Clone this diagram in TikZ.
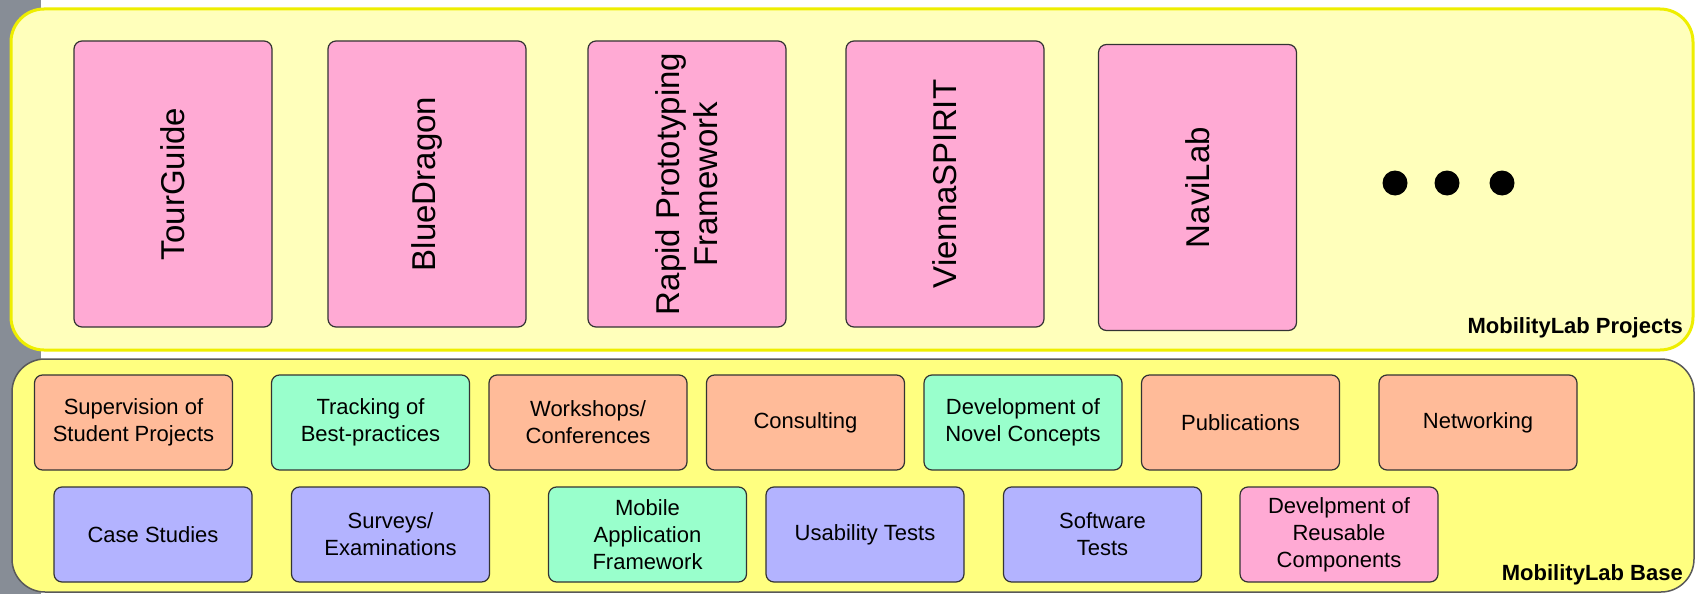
\documentclass[tikz,border=0pt]{standalone}
\usepackage{fontspec}
\setmainfont{Liberation Sans}
\definecolor{stripgray}{HTML}{878D96}
\definecolor{projborder}{HTML}{EEEE00}
\definecolor{projfill}{HTML}{FFFFBB}
\definecolor{basefill}{HTML}{FFFF80}
\definecolor{pinkbox}{HTML}{FFAAD4}
\definecolor{salmonbox}{HTML}{FFBB99}
\definecolor{mintbox}{HTML}{99FFCC}
\definecolor{lilacbox}{HTML}{B3B3FF}

\begin{document}
\begin{tikzpicture}[x=1pt,y=-1pt]
    \tikzstyle{container}=[rounded corners=33pt]
    \tikzstyle{project}=[rectangle,draw=black!80,line width=1.2pt,fill=pinkbox,rounded corners=8pt,rotate=90,minimum width=286pt,minimum height=198pt,inner sep=0pt,align=center,font=\fontsize{33}{38}\selectfont]
    \tikzstyle{task}=[rectangle,draw=black!80,line width=1.2pt,rounded corners=8pt,minimum width=198pt,minimum height=95pt,inner sep=0pt,align=center,font=\fontsize{22}{27}\selectfont]
    \tikzstyle{layer}=[anchor=base east,inner sep=0pt,font=\fontsize{22}{26}\selectfont\bfseries]
    \tikzstyle{dot}=[circle,fill=black,inner sep=0pt,minimum size=25pt]
    \path [fill=white] (0,0) rectangle (1695,594);
    \useasboundingbox (0,0) rectangle (1695,594);
    \path [fill=stripgray] (0,0) rectangle (41,594);
    % the two layers
    \path [container,draw=projborder,line width=3pt,fill=projfill] (11,9) rectangle (1693,350);
    \path [container,draw=black!65,line width=1.5pt,fill=basefill] (12,359) rectangle (1694,592);
    \node (projects) at (1683,333) [layer] {MobilityLab Projects};
    \node (base)     at (1683,580) [layer] {MobilityLab Base};
    % projects
    \node (tourguide)  at (173,184)    [project] {TourGuide};
    \node (bluedragon) at (427,184)    [project] {BlueDragon};
    \node (rapid)      at (687,184)    [project] {Rapid Prototyping\\Framework};
    \node (vienna)     at (945,184)    [project] {ViennaSPIRIT};
    \node (navilab)    at (1197.5,187.5) [project] {NaviLab};
    \foreach \x/\n in {1395/1,1447/2,1502/3}
        \node (dot\n) at (\x,183) [dot] {};
    % base, first row
    \node (supervision)  at (133.5,422.5)  [task,fill=salmonbox] {Supervision of\\Student Projects};
    \node (tracking)     at (370.5,422.5)  [task,fill=mintbox]   {Tracking of\\Best-practices};
    \node (workshops)    at (588,422.5)    [task,fill=salmonbox] {Workshops/\\Conferences};
    \node (consulting)   at (805.5,422.5)  [task,fill=salmonbox] {Consulting};
    \node (development)  at (1023,422.5)   [task,fill=mintbox]   {Development of\\Novel Concepts};
    \node (publications) at (1240.5,422.5) [task,fill=salmonbox] {Publications};
    \node (networking)   at (1478,422.5)   [task,fill=salmonbox] {Networking};
    % base, second row
    \node (casestudies) at (153,534.5)    [task,fill=lilacbox] {Case Studies};
    \node (surveys)     at (390.5,534.5)  [task,fill=lilacbox] {Surveys/\\Examinations};
    \node (mobile)      at (647.5,534.5)  [task,fill=mintbox]  {Mobile\\Application\\Framework};
    \node (usability)   at (865,534.5)    [task,fill=lilacbox] {Usability Tests};
    \node (software)    at (1102.5,534.5) [task,fill=lilacbox] {Software\\Tests};
    \node (reusable)    at (1339,534.5)   [task,fill=pinkbox]  {Develpment of\\Reusable\\Components};
\end{tikzpicture}
\end{document}
